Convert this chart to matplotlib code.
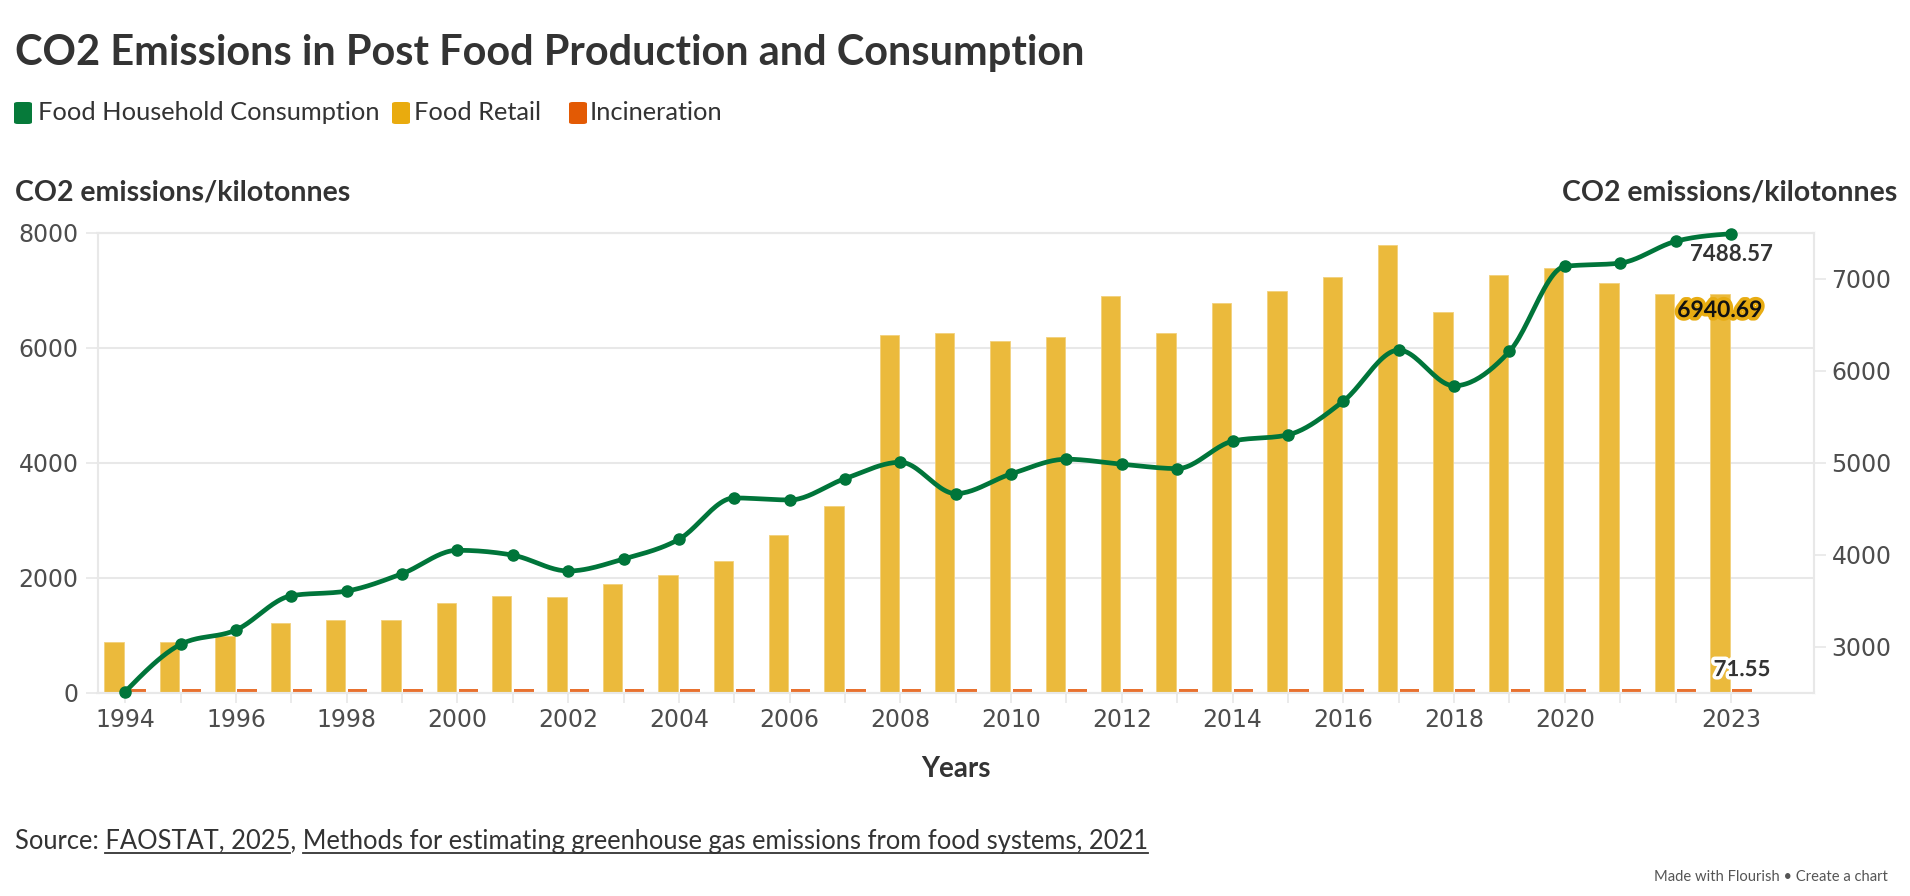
import numpy as np
import matplotlib
matplotlib.use("Agg")
import matplotlib.pyplot as plt
from matplotlib import patheffects as pe
from matplotlib.patches import FancyBboxPatch
from matplotlib.lines import Line2D
from matplotlib.font_manager import FontProperties

# ---------------- data ----------------
years = list(range(1994, 2024))
household = [2510, 3025, 3181, 3554, 3605, 3793, 4048, 3995, 3823, 3953,
             4167, 4617, 4595, 4827, 5005, 4664, 4878, 5038, 4984, 4936,
             5234, 5303, 5669, 6224, 5836, 6210, 7134, 7170, 7406, 7488.57]
retail = [881, 881, 985, 1206, 1264, 1264, 1554, 1681, 1658, 1884,
          2046, 2290, 2736, 3241, 6220, 6249, 6110, 6185, 6898, 6255,
          6777, 6985, 7229, 7780, 6620, 7264, 7379, 7124, 6926, 6940.69]
incineration = [66, 64, 65, 66, 67, 66, 67, 68, 68, 69,
                69, 70, 70, 70, 71, 70, 70, 71, 71, 70,
                71, 71, 72, 72, 71, 71, 70, 71, 71, 71.55]
xtick_labels = ["1994", "1996", "1998", "2000", "2002", "2004", "2006",
                "2008", "2010", "2012", "2014", "2016", "2018", "2020", "2023"]
left_ticks = [0, 2000, 4000, 6000, 8000]
right_ticks = [3000, 4000, 5000, 6000, 7000]

# ---------------- style ----------------
W, H = 1910, 896
GREEN = "#00753A"
YELLOW = "#EBBA3C"
ORANGE = "#E8712F"
TXT = "#333333"
TICK = "#4d4d4d"
GRID = "#e8e8e8"
FONT = "Lato"
TFONT = "DejaVu Sans"

fig = plt.figure(figsize=(W / 100, H / 100), dpi=100)
fig.patch.set_facecolor("white")


def fx(x):
    return x / W


def fy(y):
    return 1 - y / H


L, R, T, B = 97.5, 1814, 232.7, 692.7
ax = fig.add_axes([fx(L), fy(B), fx(R) - fx(L), fy(T) - fy(B)])
ax2 = ax.twinx()

x = np.array(years, dtype=float)
bw = 0.35
ax.bar(x - 0.2, retail, width=bw, color=YELLOW, edgecolor="#f2d17c",
       linewidth=0.6, zorder=2)
ax.bar(x + 0.2, incineration, width=bw, color=ORANGE, linewidth=0, zorder=2)


def monotone_x(xv, yv, steps=24):
    xv = np.asarray(xv, float)
    yv = np.asarray(yv, float)
    n = len(xv)
    h = np.diff(xv)
    s = np.diff(yv) / h
    t = np.zeros(n)
    sg = lambda v: -1.0 if v < 0 else 1.0
    for i in range(1, n - 1):
        s0, s1 = s[i - 1], s[i]
        h0, h1 = h[i - 1], h[i]
        p = (s0 * h1 + s1 * h0) / (h0 + h1)
        t[i] = (sg(s0) + sg(s1)) * min(abs(s0), abs(s1), 0.5 * abs(p))
    t[0] = (3 * s[0] - t[1]) / 2
    t[-1] = (3 * s[-1] - t[-2]) / 2
    xs, ys = [], []
    for i in range(n - 1):
        u = np.linspace(0, 1, steps, endpoint=(i == n - 2))
        h00 = 2 * u**3 - 3 * u**2 + 1
        h10 = u**3 - 2 * u**2 + u
        h01 = -2 * u**3 + 3 * u**2
        h11 = u**3 - u**2
        xs.append(xv[i] + u * h[i])
        ys.append(h00 * yv[i] + h10 * h[i] * t[i] + h01 * yv[i + 1] + h11 * h[i] * t[i + 1])
    return np.concatenate(xs), np.concatenate(ys)


cx, cy = monotone_x(x, household)
ax2.plot(cx, cy, color=GREEN, lw=3.4, solid_capstyle="round", zorder=3, clip_on=False)
ax2.plot(x, household, "o", color=GREEN, ms=8, zorder=4, clip_on=False)

ax.set_xlim(1993.5, 2024.5)
ax.set_ylim(0, 8000)
ax2.set_ylim(2500, 7500)

ax.set_yticks(left_ticks)
ax.set_yticklabels([str(v) for v in left_ticks])
ax2.set_yticks(right_ticks)
ax2.set_yticklabels([str(v) for v in right_ticks])
ax.set_xticks(years)
labs = []
for yv in years:
    labs.append(str(yv) if str(yv) in xtick_labels else "")
ax.set_xticklabels(labs)

ax.grid(axis="y", color=GRID, lw=1.5, zorder=0)
ax.set_axisbelow(True)
for a in (ax, ax2):
    for sp in a.spines.values():
        sp.set_color(GRID)
        sp.set_linewidth(1.5)
ax.tick_params(axis="y", direction="out", length=8.6, width=1.2, color=GRID,
               pad=5, labelsize=17, labelcolor=TICK)
ax.tick_params(axis="x", direction="out", length=7, width=1.2, color=GRID,
               pad=4, labelsize=17, labelcolor=TICK)
ax2.tick_params(axis="y", direction="out", length=8.6, width=1.2, color=GRID,
                pad=4, labelsize=17, labelcolor=TICK)
for lab in ax.get_xticklabels() + ax.get_yticklabels() + ax2.get_yticklabels():
    lab.set_fontfamily(TFONT)

# value labels (drawn on the top axes so they sit above the line)
ax2.annotate("7488.57", (2023, household[-1]), xytext=(0, -21),
             textcoords="offset pixels", ha="center", va="center",
             fontsize=16, fontweight="bold", family=FONT, color=TXT, zorder=6,
             annotation_clip=False)
ax2.annotate("6940.69", (2023 - 0.2, retail[-1]), xycoords=ax.transData,
             xytext=(0, -17), textcoords="offset pixels", ha="center", va="center",
             fontsize=16.5, fontweight="bold", family=FONT, color="#111111",
             path_effects=[pe.withStroke(linewidth=5, foreground="#E8AC12")],
             zorder=6, annotation_clip=False)
ax2.annotate("71.55", (2023 + 0.2, incineration[-1]), xycoords=ax.transData,
             xytext=(0, 19), textcoords="offset pixels", ha="center", va="center",
             fontsize=16, fontweight="bold", family=FONT, color=TXT,
             path_effects=[pe.withStroke(linewidth=5, foreground="white")],
             zorder=6, annotation_clip=False)

# ---------------- texts ----------------
fig.text(fx(15), fy(53), "CO2 Emissions in Post Food Production and Consumption",
         fontsize=29.9, fontweight="bold", family=FONT, color=TXT, va="center", ha="left")

legend_items = [("Food Household Consumption", "#067A3A", 14, 38),
                ("Food Retail", "#E9AB0E", 392, 414),
                ("Incineration", "#E35A04", 569, 590)]
for name, col, sx, tx in legend_items:
    p = FancyBboxPatch((fx(sx), fy(124)), fx(18), 22 / H,
                       boxstyle="round,pad=0,rounding_size=0.002",
                       transform=fig.transFigure, facecolor=col, edgecolor="none")
    fig.patches.append(p)
    fig.text(fx(tx), fy(113), name, fontsize=18.3, family=FONT, color=TXT,
             va="center", ha="left")

fig.text(fx(15), fy(192), "CO2 emissions/kilotonnes", fontsize=20.5, fontweight="bold",
         family=FONT, color=TXT, va="center", ha="left")
fig.text(fx(1897), fy(192), "CO2 emissions/kilotonnes", fontsize=20.5, fontweight="bold",
         family=FONT, color=TXT, va="center", ha="right")
fig.text(fx(956), fy(769), "Years", fontsize=20, fontweight="bold",
         family=FONT, color=TXT, va="center", ha="center")

# source line with underlined links
src_prefix = "Source: "
link1 = "FAOSTAT, 2025"
sep = ", "
link2 = "Methods for estimating greenhouse gas emissions from food systems, 2021"
full = src_prefix + link1 + sep + link2
fp = FontProperties(family=FONT, size=18.4)
fig.text(fx(15), fy(849), full, fontproperties=fp, color=TXT, va="baseline", ha="left")
fig.canvas.draw()
rend = fig.canvas.get_renderer()


def wpx(s):
    w, h, d = rend.get_text_width_height_descent(s, fp, ismath=False)
    return w


x0 = 15
for pre, link in [(src_prefix, link1), (src_prefix + link1 + sep, link2)]:
    a = x0 + wpx(pre)
    b = x0 + wpx(pre + link)
    fig.lines.append(Line2D([fx(a), fx(b)], [fy(853), fy(853)], transform=fig.transFigure,
                            color=TXT, lw=1.3))

fig.text(fx(1888), fy(877), "Made with Flourish • Create a chart", fontsize=10.6,
         family=FONT, color="#555555", va="center", ha="right")

fig.savefig("out.png", dpi=100, facecolor="white")
